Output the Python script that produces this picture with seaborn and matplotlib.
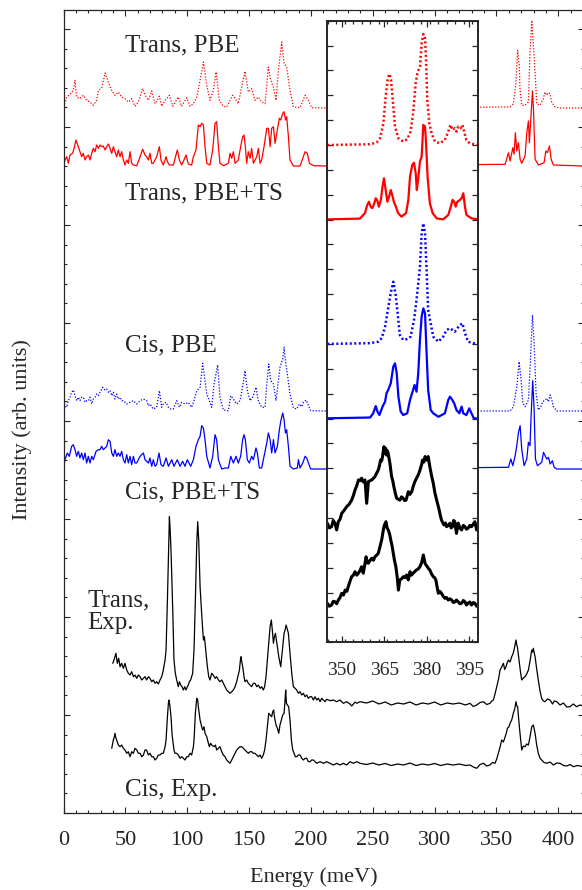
import numpy as np
import pandas as pd
import matplotlib
matplotlib.use("Agg")
import matplotlib.pyplot as plt
import seaborn as sns
from matplotlib.ticker import MultipleLocator

sns.set_style("ticks")
plt.rcParams["font.family"] = ["Liberation Serif", "DejaVu Serif"]

# ---- computed spectra, main panel: (energy meV, height above baseline) ----
trans_pbe = [(0, 1), (2.6, 11), (5.2, 13.7), (7.9, 17.7), (9.3, 27.7), (10.6, 11), (13.3, 9.3), (16.0, 12.7),
             (18.7, 7.7), (21.4, 6), (24.1, 2.7), (26.8, 7.7), (28.2, 17.7), (30.9, 20.3), (33.6, 35), (36.2, 26),
             (38.9, 17.7), (41.6, 12.7), (44.3, 16), (47.0, 11), (49.7, 9.3), (52.4, 6), (55.1, 9.3), (57.8, 1.7),
             (60.5, 6), (64.0, 19.3), (66.7, 11), (68.6, 7.7), (71.3, 17), (74.0, 4.3), (77.5, 11.7), (79.4, 1.7),
             (82.1, 7.7), (85.6, 12.7), (88.3, 1.7), (92.8, 11), (95.5, 1.7), (99.6, 10.3), (102.3, 1.7), (105.0, 4.3),
             (107.7, 11), (110.4, 27.7), (113.1, 46), (115.8, 22.7), (118.4, 7.7), (121.1, 17.7), (123.3, 36),
             (126.0, 7.7), (129.2, 1.7), (131.9, 1), (134.6, 7.7), (136.8, 12.7), (138.7, 9.3), (141.3, 4.3),
             (144.0, 21), (146.7, 36.7), (149.4, 16), (152.1, 19.3), (154.8, 7.7), (157.5, 11), (160.2, 6),
             (162.9, 4.3), (165.6, 41), (167.5, 27.7), (169.6, 21), (171.8, 7.7), (173.7, 37.7), (176.4, 66),
             (178.3, 44.3), (180.4, 41), (183.1, 17.7), (185.8, 1), (191.2, 0.3), (195.3, 12.7), (198.0, 7.7),
             (200.6, 0.3), (212.8, 0), (361.0, 1), (363.6, 4.3), (365.5, 22.7), (367.1, 57.7), (368.4, 42.7),
             (369.0, 19.3), (370.4, 2.7), (373.0, 2.7), (375.8, 6), (377.1, 56), (378.5, 87.7), (379.8, 62.7),
             (381.2, 36), (382.5, 4.3), (385.2, 2.7), (387.9, 9.3), (389.2, 16), (390.6, 12.7), (391.9, 15.3),
             (393.3, 14.3), (394.6, 6), (397.3, 1), (401.4, 0), (420, 0)]

trans_pbets = [(0, 0), (1.2, 6), (2.6, 9.3), (3.9, 2.7), (5.2, 11), (7.4, 12.7), (8.5, 17.7), (10.1, 26), (12.0, 19.3),
               (13.3, 14.3), (14.7, 9.3), (16.0, 12.7), (17.4, 6), (18.7, 9.3), (20.1, 11), (21.4, 6), (22.8, 12.7),
               (24.1, 17.7), (25.5, 14.3), (26.8, 21), (28.2, 17.7), (29.5, 21), (30.9, 19.3), (32.2, 20), (33.6, 16),
               (34.9, 19.3), (36.3, 22), (37.6, 17.7), (39.0, 12.7), (40.3, 19.3), (41.6, 14.3), (43.0, 9.3),
               (44.3, 16), (45.7, 9.3), (47.0, 14.3), (48.4, 6), (49.7, 1), (51.1, 6), (52.4, 2.7), (53.8, 14.3),
               (55.1, 2.7), (56.5, 1), (59.2, 0.3), (61.9, 9.3), (64.0, 16.7), (65.9, 11), (67.2, 9.3), (68.6, 6),
               (69.9, 12.7), (71.3, 2.7), (72.6, 2.7), (74.0, 6), (75.3, 9.3), (77.5, 19.3), (78.8, 6), (80.7, 1),
               (82.9, 9.3), (84.0, 4.3), (85.6, 1), (88.8, 1), (92.0, 16), (93.7, 6), (95.5, 1), (97.4, 6), (99.0, 11),
               (100.9, 2), (103.6, 1), (105.0, 9.3), (107.1, 16), (109.0, 41), (110.4, 39.3), (111.7, 42.7),
               (113.1, 41), (114.4, 19.3), (115.8, 2.7), (118.4, 1), (120.6, 16), (122.5, 42.7), (123.8, 44.3),
               (125.2, 19.3), (126.5, 2.7), (129.2, 0.3), (133.3, 2.7), (134.6, 12.7), (136.0, 7.7), (137.3, 14.3),
               (138.7, 2.7), (141.3, 6), (143.2, 19.3), (144.8, 29.3), (145.9, 31), (147.0, 19.3), (148.1, 2.7),
               (149.4, 14.3), (150.8, 7.7), (152.1, 17.7), (153.5, 2.7), (156.2, 9.3), (157.5, 17.7), (158.9, 2.7),
               (160.2, 6), (162.1, 19.3), (164.3, 37.7), (165.6, 37.7), (167.0, 19.3), (168.3, 37.7), (169.7, 39.3),
               (171.0, 22.7), (172.9, 36), (174.5, 47.7), (175.6, 46), (177.2, 52.7), (178.3, 54.3), (179.4, 46),
               (180.4, 49.3), (181.8, 29.3), (183.1, 6), (185.8, 0), (191.2, 0), (193.9, 9.3), (195.3, 14.3),
               (197.1, 12.7), (198.8, 2.7), (202.0, 0.3), (212.8, 0), (357.0, 1.7), (359.7, 13.3), (361.0, 5),
               (363.2, 18.3), (364.2, 11.7), (365.3, 33.3), (366.4, 15), (367.7, 23.3), (369.1, 6.7), (370.4, 2.7),
               (373.1, 10), (374.5, 33.3), (375.8, 45), (376.6, 23.3), (378.0, 53.3), (379.1, 75), (379.9, 56.7),
               (381.2, 6.7), (383.9, 1), (388.5, 3.3), (389.9, 15), (391.2, 13.3), (392.8, 20), (394.2, 6.7),
               (396.0, 1), (420, 0)]

cis_pbe = [(0, 0.3), (1.2, 5.3), (2.6, 3.7), (3.9, 10.3), (5.2, 13.7), (6.6, 18.7), (7.9, 21), (9.3, 15.3),
           (10.6, 10.3), (12.0, 13.7), (13.3, 10.3), (14.7, 13.7), (16.0, 13.7), (17.4, 8.7), (18.7, 10.3),
           (20.1, 10.3), (21.4, 13.7), (22.8, 7), (24.1, 12), (25.5, 13.7), (26.8, 17), (28.2, 15.3), (29.5, 18.7),
           (31.7, 23.7), (33.6, 21), (34.9, 22), (36.3, 18.7), (37.6, 20.3), (39.0, 15.3), (40.3, 18.7), (41.6, 12),
           (43.0, 17), (44.3, 12), (45.7, 13.7), (47.0, 10.3), (48.4, 10.3), (51.1, 7), (53.8, 8.7), (56.5, 10.3),
           (59.2, 7), (61.9, 10.3), (64.6, 12), (67.2, 10.3), (68.6, 5.3), (69.9, 7), (72.6, 2), (75.3, 3.7),
           (77.5, 20.3), (79.4, 3.7), (80.7, 7), (82.9, 8.7), (84.8, 3.7), (86.6, 2), (88.8, 2), (91.5, 10.3),
           (93.7, 3.7), (95.5, 8.7), (98.2, 7), (100.9, 8.7), (103.6, 3.7), (105.5, 10.3), (107.7, 20.3),
           (110.4, 23.7), (112.5, 47.7), (114.4, 30.3), (115.8, 17), (117.9, 10.3), (119.8, 3.7), (121.7, 27),
           (124.6, 46), (126.5, 13.7), (129.2, 1), (133.3, 0.3), (135.2, 15.3), (137.3, 12), (140.0, 7),
           (142.7, 10.3), (145.4, 28.7), (146.7, 40.3), (148.6, 20.3), (150.8, 10.3), (152.9, 13.7), (155.6, 23.7),
           (157.5, 10.3), (160.2, 3.7), (162.9, 3.7), (164.3, 27), (165.9, 47), (167.5, 30.3), (169.7, 27),
           (171.8, 10.3), (173.7, 30.3), (175.0, 43.7), (177.2, 52), (178.3, 63.7), (179.4, 50.3), (180.4, 42),
           (183.1, 17), (185.8, 3), (188.5, 2), (190.7, 7), (192.6, 4.3), (193.9, 8.7), (196.1, 11), (198.0, 5.3),
           (199.8, 0.3), (212.8, 0), (361.0, 0), (363.7, 4.3), (366.4, 24.3), (368.3, 49.3), (369.9, 31),
           (371.3, 7.7), (373.1, 4.3), (375.8, 11), (377.2, 44.3), (379.1, 96), (380.4, 67.7), (382.0, 17.7),
           (383.9, 1), (385.8, 4.3), (387.4, 9.3), (389.3, 11), (390.7, 12.7), (392.0, 9.3), (393.4, 16),
           (394.7, 11), (396.0, 4.3), (398.7, 0), (420, 0)]

cis_pbets = [(0, 1), (1.2, 9.3), (3.1, 16), (4.7, 12.7), (6.6, 22.7), (7.9, 24.3), (9.3, 19.3), (10.6, 12.7),
             (12.0, 17.7), (13.3, 11), (14.7, 16), (16.0, 9.3), (17.4, 16), (18.7, 6), (20.1, 12.7), (21.4, 6),
             (22.8, 12.7), (24.1, 9.3), (26.3, 17.7), (28.2, 19.3), (29.5, 19.3), (30.9, 22.7), (32.2, 19.3),
             (34.9, 22.7), (36.3, 29.3), (37.6, 27.7), (39.0, 16), (40.3, 12.7), (41.6, 19.3), (43.0, 12.7),
             (44.3, 16), (45.7, 12.7), (47.0, 17.7), (48.4, 9.3), (49.7, 6), (51.1, 14.3), (52.4, 6), (53.8, 12.7),
             (55.1, 4.3), (56.5, 12.7), (57.8, 6), (59.2, 6), (61.9, 12.7), (63.2, 14.3), (64.6, 16), (65.9, 9.3),
             (67.2, 7.7), (68.6, 6), (69.9, 11), (71.3, 2.7), (72.6, 9.3), (74.0, 2.7), (75.3, 4.3), (77.2, 16),
             (78.8, 4.3), (80.7, 2.7), (82.9, 11), (84.8, 2.7), (87.5, 9.3), (89.3, 2.7), (92.0, 9.3), (94.2, 2.7),
             (96.3, 7.7), (98.2, 2.7), (100.1, 9.3), (102.8, 2.7), (105.0, 9.3), (107.1, 22.7), (109.0, 29.3),
             (110.4, 32.7), (111.7, 43.3), (113.1, 41), (114.4, 29.3), (115.8, 12.7), (118.4, 1), (120.6, 12.7),
             (122.5, 34.3), (123.8, 29.3), (125.2, 9.3), (127.9, 0), (130.6, 1), (133.3, 1), (135.2, 12.7),
             (137.3, 6), (139.5, 12.7), (141.3, 6), (143.2, 12.7), (144.8, 29.3), (145.9, 34.3), (147.0, 29.3),
             (148.6, 9.3), (150.2, 6), (152.1, 12.7), (153.5, 9.3), (155.6, 21), (156.7, 16), (158.3, 1),
             (160.2, 1), (162.1, 12.7), (164.3, 26), (165.6, 36), (167.0, 29.3), (168.3, 16), (169.7, 29.3),
             (171.0, 16), (172.9, 22.7), (174.5, 39.3), (175.6, 47.7), (177.2, 56), (178.3, 49.3), (179.4, 36),
             (180.4, 39.3), (181.8, 22.7), (183.1, 2.7), (185.8, 0), (189.0, 1), (189.9, 9.3), (191.2, 1),
             (193.4, 6), (195.3, 12.7), (196.6, 11), (198.0, 6), (199.8, 0), (212.8, 0), (359.7, 1.7), (361.6, 10),
             (363.2, 3.3), (365.1, 13.3), (366.4, 23.3), (367.8, 36.7), (369.1, 43.3), (370.4, 20), (372.3, 3.3),
             (374.5, 10), (375.8, 26.7), (377.1, 23.3), (378.0, 53.3), (379.3, 88.3), (380.4, 60), (381.5, 10),
             (383.1, 3.3), (386.6, 6.7), (388.0, 16.7), (389.3, 13.3), (390.7, 10), (392.0, 11.7), (393.4, 5),
             (395.2, 8.3), (396.6, 1.7), (398.7, 0), (420, 0)]

calc_offsets = [705, 647, 402, 344]

# ---- experimental spectra, main panel: (energy meV, intensity) ----
trans_exp = [(39.8, 149.7), (40.8, 153), (41.6, 156.3), (42.4, 159.7), (43.5, 149.7), (44.6, 154.7), (45.7, 146.3),
             (47.0, 149.7), (48.4, 144.7), (49.7, 149.7), (51.1, 143), (52.4, 139.7), (53.8, 138), (55.1, 141.3),
             (56.5, 136.3), (57.8, 138), (59.2, 134.7), (60.5, 138), (61.9, 136.3), (63.2, 133), (64.6, 134.7),
             (65.9, 136.3), (67.2, 133), (68.6, 136.3), (69.9, 134.7), (71.3, 131.3), (72.6, 133), (74.0, 129.7),
             (75.3, 131.3), (76.7, 129), (78.0, 133), (79.4, 136.3), (80.7, 143), (82.1, 153), (82.9, 163),
             (84.0, 213), (85.0, 263), (85.6, 296.3), (86.1, 286.3), (86.9, 263), (88.3, 203), (89.3, 153),
             (90.4, 139.7), (91.5, 133), (92.8, 126.3), (93.7, 131.3), (94.7, 128), (95.8, 126.3), (96.9, 123),
             (98.0, 126.3), (99.0, 123), (100.1, 126.3), (100.9, 128), (101.7, 131.3), (102.8, 133), (103.6, 136.3),
             (104.4, 139.7), (105.5, 163), (106.6, 213), (107.7, 269.7), (108.5, 291.3), (109.3, 273), (110.4, 226.3),
             (112.0, 193), (113.1, 173), (113.9, 176.3), (114.7, 166.3), (116.3, 146.3), (117.4, 136.3), (118.4, 133),
             (119.8, 139.7), (121.1, 138), (122.5, 134.7), (123.8, 136.3), (125.2, 133), (126.5, 131.3), (127.9, 133),
             (129.2, 129.7), (130.6, 126.3), (131.9, 123), (133.3, 121.3), (134.6, 119.7), (136.0, 121.3),
             (137.3, 123), (138.7, 126.3), (140.0, 131.3), (141.3, 138), (142.2, 143), (143.0, 153), (143.5, 156.3),
             (144.3, 149.7), (144.9, 146.3), (145.9, 136.3), (146.7, 131.3), (148.1, 133), (149.4, 129.7),
             (150.8, 128), (152.1, 126.3), (153.5, 129.7), (154.8, 129.7), (156.2, 126.3), (157.5, 128),
             (158.9, 124.7), (160.2, 126.3), (161.5, 123), (162.6, 126.3), (163.7, 136.3), (164.8, 153),
             (165.6, 166.3), (167.0, 186.3), (168.0, 193), (168.8, 183), (169.7, 169.7), (170.5, 176.3),
             (171.3, 179.7), (172.1, 173), (172.9, 166.3), (174.0, 156.3), (175.0, 149.7), (175.6, 146.3),
             (176.4, 156.3), (177.2, 166.3), (178.3, 179.7), (179.1, 183), (179.9, 188), (180.7, 184.7),
             (181.8, 179.7), (183.1, 159.7), (184.5, 139.7), (185.8, 126.3), (187.2, 124.7), (188.5, 123),
             (189.9, 119.7), (191.2, 121.3), (192.6, 118), (193.9, 119.7), (195.3, 116.3), (196.6, 118),
             (198.0, 114.7), (199.3, 116.3), (200.6, 116.3), (202.0, 113), (203.3, 116.3), (204.7, 113),
             (206.0, 114.7), (207.4, 111.3), (208.7, 114.7), (210.1, 113), (211.4, 111.3), (212.8, 113.7),
             (215.5, 112.3), (218.2, 113), (220.9, 111.3), (223.5, 113), (226.2, 109.7), (228.9, 111.3),
             (231.6, 109), (233.0, 107), (234.3, 109), (235.7, 111), (237.0, 109.7), (239.7, 111.3), (245, 110),
             (250, 112), (255, 109), (260, 111), (265, 108), (270, 110), (275, 109), (280, 111), (285, 108),
             (290, 110), (295, 109), (300, 111), (305, 108), (310, 110), (315, 109), (320, 110), (325, 108),
             (328.6, 109.7), (331.3, 106.5), (334.0, 108), (336.7, 110.5), (339.4, 111.3), (342.1, 108.5),
             (344.8, 109.7), (346.2, 112), (347.5, 113), (348.8, 119), (350.2, 126.3), (351.5, 133), (352.9, 143),
             (354.2, 146), (355.6, 149.7), (356.6, 143.5), (357.7, 146.3), (358.6, 150), (359.6, 153), (361.0, 151),
             (362.3, 156.3), (363.3, 159), (364.2, 163), (365.0, 168), (365.8, 173), (366.4, 168), (366.9, 166.3),
             (367.7, 158), (368.5, 149.7), (369.5, 140), (370.4, 133), (371.7, 135), (373.1, 136.3), (374.4, 139),
             (375.8, 143), (377.1, 152), (378.5, 163), (379.2, 161), (379.8, 164.7), (380.5, 160), (381.2, 156.3),
             (382.5, 144), (383.8, 133), (385.2, 122), (386.5, 114.7), (387.9, 112), (389.2, 111.3), (391.2, 114),
             (393.3, 113), (395.3, 109), (396.7, 112), (398.7, 111.3), (401.4, 108), (404.1, 110), (406.8, 106),
             (409.4, 106.3), (412.1, 109), (414.8, 106.3), (417.5, 108), (420, 107)]

cis_exp = [(39.0, 64.7), (39.8, 69.7), (40.3, 73), (41.1, 76.3), (41.6, 79.7), (42.4, 74.7), (43.0, 73), (44.3, 68),
           (45.7, 66.3), (47.0, 68), (48.4, 64.7), (49.7, 63), (51.1, 59.7), (52.4, 61.3), (53.8, 56.3), (55.1, 61.3),
           (56.5, 59.7), (57.8, 64.7), (59.2, 63), (60.5, 59.7), (61.9, 59.7), (63.2, 56.3), (64.6, 58), (65.9, 63),
           (67.2, 63), (68.6, 58), (69.9, 59.7), (71.3, 56.3), (72.6, 56.3), (74.0, 53), (75.3, 54.7), (76.7, 58),
           (78.0, 58), (79.4, 59.7), (80.7, 59.7), (82.1, 66.3), (82.9, 73), (84.0, 96.3), (84.8, 109.7),
           (85.3, 113), (86.1, 106.3), (86.9, 96.3), (87.7, 79.7), (88.3, 73), (89.3, 63), (90.1, 59.7), (91.5, 59.7),
           (92.8, 58), (94.2, 54.7), (95.5, 56.3), (96.9, 54.7), (98.2, 53), (99.6, 56.3), (100.9, 56.3),
           (102.3, 59.7), (103.6, 58), (105.0, 66.3), (105.5, 73), (106.6, 99.7), (107.7, 114.7), (108.5, 113),
           (109.0, 106.3), (110.4, 93), (111.7, 86.3), (112.5, 83), (113.6, 86.3), (114.4, 79.7), (115.8, 76.3),
           (116.8, 71.3), (117.9, 66.3), (119.0, 69.7), (119.8, 68), (121.7, 66.3), (122.8, 68), (123.8, 63),
           (125.2, 64.7), (126.5, 66.3), (127.9, 61.3), (129.2, 58), (130.6, 56.3), (131.9, 53), (133.3, 51.3),
           (134.6, 49.7), (136.0, 53), (137.3, 56.3), (138.7, 59.7), (140.0, 63), (141.3, 64.7), (142.7, 66.3),
           (144.0, 66.3), (145.4, 64.7), (146.7, 63), (148.1, 61.3), (149.4, 59.7), (150.8, 61.3), (152.1, 61.3),
           (153.5, 59.7), (154.8, 59.7), (156.2, 58), (157.5, 56.3), (158.9, 58), (160.2, 54.7), (161.5, 58),
           (162.6, 63), (163.7, 73), (164.8, 86.3), (165.9, 99.7), (167.0, 98), (168.3, 96.3), (169.1, 101.3),
           (169.9, 103), (170.7, 94.7), (171.8, 88), (172.9, 84.7), (174.0, 79.7), (175.0, 88), (176.1, 93),
           (177.2, 98), (178.3, 99.7), (179.1, 113), (179.6, 123), (180.2, 109.7), (181.0, 108), (182.0, 106.3),
           (183.1, 93), (184.2, 73), (185.3, 63), (186.4, 59.7), (187.4, 56.3), (188.5, 56.3), (189.9, 58),
           (191.2, 58), (192.6, 54.7), (193.9, 53), (195.3, 54.7), (196.6, 54.7), (198.0, 51.3), (199.3, 51.3),
           (200.6, 53), (202.0, 53), (204.7, 49.7), (207.4, 51.3), (210.1, 49.7), (212.8, 51.3), (215.5, 49.7),
           (218.2, 48), (220.9, 49.7), (223.5, 48), (226.2, 49.7), (228.9, 48), (231.6, 51.3), (234.3, 49.7),
           (237.0, 51.3), (239.7, 49.7), (245, 48.5), (250, 50), (255, 48), (260, 49.5), (265, 47.5), (270, 49),
           (275, 48), (280, 50), (285, 47.5), (290, 49), (295, 48), (300, 49.5), (305, 47.5), (310, 49), (315, 48),
           (320, 49), (325, 47.5), (328.6, 48), (331.3, 46), (334.0, 44.7), (336.7, 48.5), (339.4, 49.7),
           (342.1, 47), (344.8, 48), (346.8, 50.5), (348.8, 49.7), (350.2, 54), (351.5, 59.7), (352.9, 66),
           (354.2, 73), (355.6, 71), (357.0, 76.3), (358.0, 80), (358.8, 84.7), (360.0, 86), (361.0, 89.7),
           (362.3, 93), (363.6, 99.7), (364.7, 104), (365.8, 111.3), (366.4, 107), (367.1, 106.3), (368.0, 93),
           (369.0, 79.7), (370.4, 63), (371.7, 67), (373.1, 66.3), (374.4, 69), (375.8, 68), (377.1, 76),
           (378.5, 86.3), (379.8, 88), (380.5, 84), (381.2, 79.7), (382.5, 68), (383.8, 59.7), (385.2, 55),
           (386.5, 53), (388.5, 50.5), (390.6, 49.7), (393.3, 51), (396.0, 48), (398.7, 50), (401.4, 49.7),
           (404.1, 47.5), (406.8, 47), (409.5, 48.5), (412.2, 46.3), (415.5, 47.5), (420, 46.3)]

# ---- inset spectra: (energy meV, intensity) ----
inset_trans_pbe = [(344.9, 20.0), (360.0, 20.03), (362.3, 20.1), (363.5, 20.27), (364.7, 20.88), (365.5, 21.95),
                   (366.2, 22.62), (366.8, 22.86), (367.4, 22.62), (368.0, 21.82), (368.8, 20.74), (370.0, 20.27),
                   (371.7, 20.14), (373.1, 20.23), (374.3, 20.54), (375.2, 21.28), (376.1, 22.49), (376.8, 22.95),
                   (377.6, 23.15), (378.2, 24.09), (378.8, 24.46), (379.4, 24.3), (379.7, 23.56), (380.2, 21.82),
                   (380.9, 20.88), (381.7, 20.47), (382.9, 20.14), (384.6, 20.07), (386.4, 20.2), (387.6, 20.54),
                   (388.4, 20.81), (389.1, 20.6), (389.9, 20.67), (390.5, 20.54), (391.1, 20.74), (391.9, 20.67),
                   (392.6, 20.81), (393.2, 20.54), (394.0, 20.2), (395.2, 20.07), (398.2, 20.0)]

inset_trans_pbets = [(344.9, 17.01), (356.4, 17.04), (358.2, 17.26), (359.0, 17.59), (359.6, 17.72), (360.2, 17.52),
                     (360.8, 17.46), (361.5, 17.66), (362.0, 17.86), (362.5, 17.79), (363.1, 17.52), (363.8, 17.79),
                     (364.4, 18.33), (364.9, 18.66), (365.5, 18.19), (366.1, 17.72), (366.7, 17.92), (367.3, 18.19),
                     (367.8, 17.99), (368.4, 17.72), (369.1, 17.52), (369.9, 17.26), (371.1, 17.12), (372.7, 17.26),
                     (373.5, 17.79), (374.1, 18.73), (374.9, 19.2), (375.5, 19.29), (376.1, 18.87), (376.5, 18.19),
                     (377.0, 18.66), (377.6, 19.33), (378.2, 19.53), (378.8, 20.81), (379.4, 20.74), (379.7, 20.2),
                     (380.3, 18.73), (381.1, 17.66), (382.1, 17.26), (383.5, 17.05), (385.8, 17.01), (387.6, 17.19),
                     (388.5, 17.52), (389.1, 17.79), (389.7, 17.72), (390.2, 17.52), (390.8, 17.72), (391.7, 17.79),
                     (392.3, 17.86), (392.9, 18.06), (393.5, 17.52), (394.0, 17.19), (395.8, 17.05), (398.2, 17.01)]

inset_cis_pbe = [(344.9, 12.0), (360.0, 12.03), (362.9, 12.09), (364.1, 12.23), (365.3, 12.7), (366.4, 13.45),
                 (367.2, 14.0), (368.2, 14.5), (369.0, 14.0), (369.6, 13.37), (370.5, 12.36), (371.7, 12.16),
                 (373.1, 12.2), (374.3, 12.29), (375.5, 12.96), (376.4, 13.77), (377.6, 15.1), (378.2, 16.45),
                 (378.8, 16.85), (379.4, 16.45), (380.0, 14.84), (380.5, 13.37), (381.1, 13.0), (382.3, 12.29),
                 (384.1, 12.09), (385.8, 12.29), (387.0, 12.56), (388.2, 12.63), (389.1, 12.56), (389.9, 12.49),
                 (390.8, 12.63), (391.7, 12.76), (392.6, 12.83), (393.5, 12.43), (394.6, 12.09), (396.4, 12.03),
                 (398.2, 12.0)]

inset_cis_pbets = [(344.9, 9.01), (360.0, 9.04), (361.1, 9.21), (362.0, 9.5), (362.6, 9.28), (363.3, 9.14),
                   (364.4, 9.48), (365.3, 9.68), (365.8, 10.02), (366.4, 10.15), (367.3, 10.42), (368.2, 11.09),
                   (368.8, 11.22), (369.4, 10.82), (370.0, 9.88), (370.8, 9.28), (371.7, 9.14), (373.1, 9.21),
                   (374.1, 9.75), (375.0, 10.08), (375.7, 10.35), (376.4, 10.08), (377.0, 10.82), (377.6, 12.16),
                   (378.2, 13.1), (378.8, 13.43), (379.4, 13.23), (379.9, 11.76), (380.5, 10.15), (381.4, 9.34),
                   (382.3, 9.21), (384.1, 9.07), (386.4, 9.21), (387.6, 9.75), (388.2, 9.88), (389.0, 9.75),
                   (389.7, 9.61), (390.5, 9.34), (391.5, 9.21), (392.3, 9.48), (392.9, 9.21), (394.0, 9.14),
                   (395.0, 9.41), (395.8, 9.21), (396.6, 9.01), (398.2, 9.01)]

inset_trans_exp = [(344.9, 4.79), (345.6, 4.6), (346.4, 4.65), (347.0, 4.9), (347.6, 4.79), (348.2, 4.52),
                   (348.8, 4.85), (349.4, 4.95), (350.0, 5.19), (350.8, 5.3), (351.7, 5.45), (352.6, 5.55),
                   (353.5, 5.72), (354.1, 5.9), (354.7, 6.13), (355.3, 6.3), (355.9, 6.53), (356.5, 6.5),
                   (357.0, 6.6), (357.6, 6.45), (358.2, 6.53), (358.8, 5.59), (359.4, 6.46), (360.0, 6.5),
                   (360.6, 6.53), (361.2, 6.6), (361.7, 6.66), (362.3, 6.8), (362.9, 6.93), (363.3, 7.1),
                   (363.7, 7.33), (364.1, 7.3), (364.4, 7.47), (364.9, 7.87), (365.2, 7.6), (365.5, 7.8),
                   (365.8, 7.53), (366.1, 7.7), (366.4, 7.6), (367.0, 7.2), (367.6, 6.66), (368.0, 6.5),
                   (368.4, 6.26), (369.0, 5.95), (369.4, 5.79), (370.0, 5.75), (370.5, 5.72), (371.1, 5.85),
                   (371.7, 5.79), (372.2, 5.7), (372.7, 5.72), (373.5, 6.06), (374.1, 5.95), (374.7, 6.06),
                   (375.3, 6.3), (375.8, 6.46), (376.4, 6.6), (377.0, 6.73), (377.4, 6.85), (377.8, 7.0),
                   (378.2, 7.15), (378.5, 7.33), (379.0, 7.25), (379.4, 7.47), (380.0, 7.33), (380.5, 7.47),
                   (381.1, 7.06), (381.7, 6.7), (382.3, 6.4), (382.9, 6.0), (383.5, 5.72), (384.0, 5.5),
                   (384.4, 5.32), (384.8, 5.1), (385.2, 4.92), (385.7, 4.8), (386.1, 4.72), (386.6, 4.8),
                   (387.0, 4.65), (387.6, 4.7), (388.2, 4.79), (388.6, 4.6), (389.1, 4.65), (389.5, 4.9),
                   (389.9, 4.85), (390.5, 4.38), (391.1, 4.79), (391.7, 4.6), (392.3, 4.52), (392.9, 4.7),
                   (393.5, 4.65), (394.0, 4.55), (394.6, 4.59), (395.2, 4.7), (395.8, 4.65), (396.4, 4.75),
                   (397.0, 4.85), (397.6, 4.52), (398.2, 4.65)]

inset_cis_exp = [(344.9, 1.57), (345.6, 1.45), (346.4, 1.5), (347.0, 1.65), (347.6, 1.63), (348.2, 1.55),
                 (348.8, 1.7), (349.4, 1.8), (350.0, 1.97), (350.6, 1.9), (351.2, 2.1), (351.8, 2.05),
                 (352.3, 2.24), (352.9, 2.45), (353.5, 2.64), (354.1, 2.7), (354.7, 2.84), (355.3, 2.7),
                 (355.9, 2.78), (356.5, 2.9), (357.0, 3.04), (357.6, 2.78), (358.1, 3.1), (358.6, 3.44),
                 (359.0, 3.2), (359.4, 3.18), (360.0, 3.3), (360.6, 3.38), (361.2, 3.3), (361.7, 3.44),
                 (362.3, 3.5), (362.9, 3.58), (363.5, 3.85), (364.1, 4.12), (364.5, 4.4), (364.9, 4.65),
                 (365.2, 4.75), (365.6, 4.85), (366.0, 4.6), (366.4, 4.52), (366.9, 4.35), (367.3, 4.12),
                 (367.8, 3.85), (368.2, 3.58), (368.6, 3.3), (369.1, 3.04), (369.6, 2.6), (370.0, 2.1),
                 (370.5, 2.51), (371.1, 2.55), (371.7, 2.64), (372.3, 2.6), (372.9, 2.71), (373.5, 2.51),
                 (374.1, 2.84), (374.6, 2.7), (375.2, 2.78), (375.8, 2.85), (376.4, 2.91), (377.0, 2.95),
                 (377.6, 3.04), (378.2, 3.2), (378.8, 3.51), (379.4, 3.18), (379.8, 3.1), (380.2, 3.04),
                 (380.7, 2.95), (381.1, 2.91), (381.7, 2.75), (382.3, 2.64), (382.8, 2.6), (383.2, 2.51),
                 (383.7, 2.2), (384.1, 1.97), (384.6, 2.05), (385.2, 1.97), (385.8, 1.85), (386.4, 1.77),
                 (387.0, 1.8), (387.6, 1.7), (388.2, 1.75), (388.8, 1.7), (389.4, 1.6), (390.0, 1.63),
                 (390.5, 1.7), (391.1, 1.63), (391.7, 1.55), (392.3, 1.57), (392.9, 1.68), (393.5, 1.63),
                 (394.0, 1.5), (394.6, 1.57), (395.2, 1.62), (395.8, 1.5), (396.4, 1.6), (397.0, 1.57),
                 (397.6, 1.45), (398.2, 1.5)]

labels = ["Trans, PBE", "Trans, PBE+TS", "Cis, PBE", "Cis, PBE+TS", "Trans,\nExp.", "Cis, Exp."]
label_pos = [(49.7, 768), (49.7, 620), (49.7, 468), (49.7, 321), (19, 201), (49.7, 23)]
inset_ticks = [350, 365, 380, 395]

RED = "#ff0000"
BLUE = "#0000ff"
DOT = (0, (1, 1.4))


def to_df(pairs, offset=0.0):
    df = pd.DataFrame(pairs, columns=["energy", "intensity"])
    df["intensity"] = df["intensity"] + offset
    return df


def draw(ax, df, color, lw, ls="-"):
    sns.lineplot(data=df, x="energy", y="intensity", ax=ax, color=color, linewidth=lw,
                 linestyle=ls, estimator=None, sort=False, legend=False)


fig = plt.figure(figsize=(5.82, 8.90), dpi=100)
ax = fig.add_axes([63.5 / 582, 77 / 890, 520.2 / 582, 803 / 890])

calc = [trans_pbe, trans_pbets, cis_pbe, cis_pbets]
calc_col = [RED, RED, BLUE, BLUE]
calc_ls = [DOT, "-", DOT, "-"]
for pairs, off, c, ls in zip(calc, calc_offsets, calc_col, calc_ls):
    draw(ax, to_df(pairs, off), c, 0.9, ls)
draw(ax, to_df(trans_exp), "black", 0.9)
draw(ax, to_df(cis_exp), "black", 0.9)

for txt, (x, y) in zip(labels, label_pos):
    ax.text(x, y, txt, fontsize=18, ha="left", va="center", linespacing=1.05)

ax.set_xlim(0, 420.5)
ax.set_ylim(0, 803)
ax.xaxis.set_major_locator(MultipleLocator(50))
ax.xaxis.set_minor_locator(MultipleLocator(10))
ax.yaxis.set_major_locator(MultipleLocator(98))
ax.yaxis.set_minor_locator(MultipleLocator(19.6))
ax.tick_params(which="both", direction="in", top=True, right=True, width=0.8, labelsize=16)
ax.tick_params(which="major", length=4.5, pad=13)
ax.tick_params(which="minor", length=2.3)
ax.set_yticklabels([])
ax.set_xlabel("")
ax.set_ylabel("")
for s in ax.spines.values():
    s.set_linewidth(0.9)

fig.text(314 / 582, 1 - 877 / 890, "Energy (meV)", fontsize=16, ha="center", va="center")
fig.text(22 / 582, 1 - 430 / 890, "Intensity (arb. units)", fontsize=16, ha="center", va="center",
         rotation=90)

# ---- inset ----
ins = fig.add_axes([327.3 / 582, 247.7 / 890, 151 / 582, 621.6 / 890])
ins.set_facecolor("white")
draw(ins, to_df(inset_trans_pbe), RED, 1.8, (0, (0.8, 1.0)))
draw(ins, to_df(inset_trans_pbets), RED, 1.6)
draw(ins, to_df(inset_cis_pbe), BLUE, 1.8, (0, (0.8, 1.0)))
draw(ins, to_df(inset_cis_pbets), BLUE, 1.6)
draw(ins, to_df(inset_trans_exp), "black", 2.2)
draw(ins, to_df(inset_cis_exp), "black", 2.2)

ins.set_xlim(344.9, 398.2)
ins.set_ylim(0, 25)
ins.set_xticks(inset_ticks)
ins.xaxis.set_minor_locator(MultipleLocator(3))
ins.yaxis.set_major_locator(MultipleLocator(1))
ins.tick_params(which="both", direction="in", top=True, right=True, width=0.9, labelsize=14)
ins.tick_params(which="major", length=4, pad=14)
ins.tick_params(which="minor", length=2.3)
ins.set_yticklabels([])
ins.set_xlabel("")
ins.set_ylabel("")
for s in ins.spines.values():
    s.set_linewidth(1.4)

fig.savefig("out.png", dpi=100)
